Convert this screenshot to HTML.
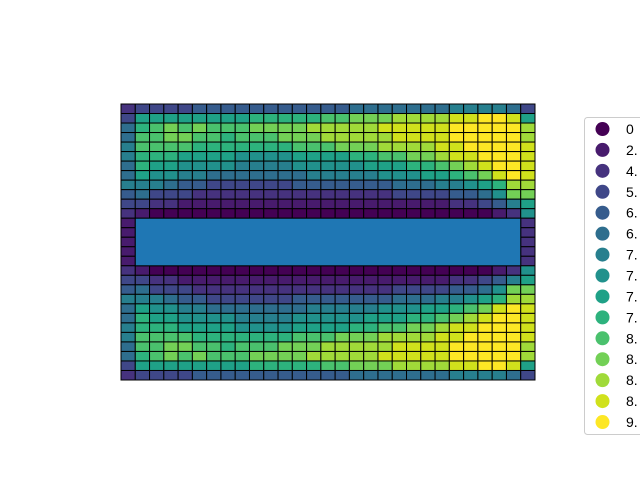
<!DOCTYPE html>
<html><head><meta charset="utf-8"><style>
body{margin:0;background:#fff;width:640px;height:480px;overflow:hidden;font-family:"Liberation Sans","DejaVu Sans",sans-serif}
</style></head><body>
<svg id="c" width="640" height="480" xmlns="http://www.w3.org/2000/svg"></svg>
<script>
const legendLabels=["0","2.","4.","5.","6.","6.","7.","7.","7.","7.","8.","8.","8.","8.","9."];
const colors=["#440154","#481b6d","#46327e","#3f4788","#365c8d","#2e6e8e","#277f8e","#21918c","#1fa187","#2db27d","#4ac16d","#73d056","#a0da39","#d0e11c","#fde725"];
const topRows=[
[2,3,3,3,3,4,4,4,4,4,4,4,4,4,4,4,5,5,5,5,5,5,5,6,6,6,6,5,3],
[3,8,8,8,8,8,8,8,8,9,9,9,9,9,10,10,11,11,11,12,12,12,12,13,13,14,14,13,8],
[5,9,10,11,10,11,10,10,10,11,11,11,11,12,12,12,12,12,13,13,13,13,13,14,14,14,14,14,12],
[5,10,10,11,11,10,10,9,10,10,10,11,11,11,12,12,12,12,12,13,13,13,13,14,14,14,14,14,12],
[6,10,10,10,10,9,9,9,9,9,9,9,10,10,10,11,11,11,12,12,12,12,13,13,14,14,14,14,13],
[6,9,9,9,8,8,8,8,7,7,7,7,8,8,8,8,9,9,10,10,11,11,12,13,13,14,14,14,13],
[5,9,8,8,7,7,7,7,6,6,6,6,7,7,7,7,7,8,8,8,9,9,10,11,12,13,14,14,13],
[5,8,7,7,6,6,5,5,5,5,5,5,5,6,6,6,6,6,7,7,7,8,8,9,10,11,13,14,13],
[6,6,6,5,4,4,3,3,3,3,3,3,4,4,4,4,4,4,4,5,5,5,6,6,7,8,9,12,12],
[4,5,3,3,3,2,2,2,2,2,2,2,2,2,2,2,2,2,2,3,3,3,3,4,4,5,7,11,11],
[3,3,2,2,1,1,1,1,1,1,1,1,1,1,1,1,1,1,1,1,1,1,1,2,2,3,4,6,8],
[2,1,0,0,0,0,0,0,0,0,0,0,0,0,0,0,0,0,0,0,0,0,0,0,0,0,1,2,7]];
const midLeft=1, midRight=2;
const NS="http://www.w3.org/2000/svg";
const svg=document.getElementById('c');
const X0=121,Y0=104,W=414,H=276,N=29;
const cw=W/N,ch=H/N;
function xs(i){return X0+i*cw;}
function ys(j){return Y0+j*ch;}
function mk(t,a){const e=document.createElementNS(NS,t);for(const k in a)e.setAttribute(k,a[k]);svg.appendChild(e);return e;}
const grid=[];
for(let r=0;r<12;r++)grid[r]=topRows[r];
for(let r=12;r<17;r++){const row=new Array(N).fill(null);row[0]=midLeft;row[N-1]=midRight;grid[r]=row;}
for(let r=17;r<N;r++)grid[r]=topRows[N-1-r];
for(let r=0;r<N;r++)for(let c=0;c<N;c++){
 const v=grid[r][c]; if(v===null)continue;
 const e=mk('rect',{x:xs(c),y:ys(r),width:cw,height:ch,fill:colors[v],stroke:'#000','stroke-width':1});
 
 
}
const b=mk('rect',{x:xs(1),y:ys(12),width:cw*27,height:ch*5,fill:'#1f77b4',stroke:'#000','stroke-width':1});


const lb=mk('rect',{x:584.5,y:117.5,width:70,height:317,rx:3,fill:'#fff',stroke:'#ccc','stroke-width':1});


legendLabels.forEach((l,i)=>{
 const y=129+i*20.93;
 const c=mk('circle',{cx:602.5,cy:y,r:7,fill:colors[i]});
 
 
 const t=mk('text',{x:626,y:y+5,'font-size':14,fill:'#000'});
 t.textContent=l;
 
 
});
</script>
</body></html>
